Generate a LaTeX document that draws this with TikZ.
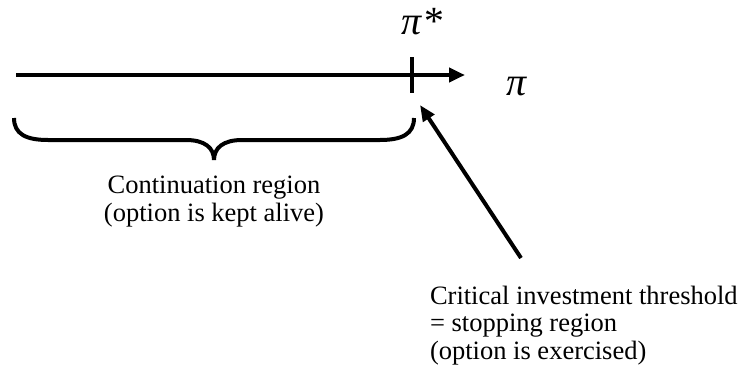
\documentclass[tikz,border=0pt]{standalone}
\usepackage{fontspec}
\setmainfont{Liberation Serif}
\usepackage{tikz}
\usetikzlibrary{arrows.meta}
\tikzset{
  txt/.style={inner sep=0pt,font=\fontsize{26.5}{27.5}\selectfont},
  sym/.style={inner sep=0pt,font=\fontsize{40}{40}\selectfont\itshape},
}
\begin{document}
\begin{tikzpicture}[x=1pt,y=-1pt,>={Triangle[length=16pt,width=14pt]},line width=4pt]
\useasboundingbox (0,0) rectangle (739,367);
\coordinate (start) at (16,75);
\coordinate (end) at (465,75);
\coordinate (ticktop) at (412,57);
\coordinate (tickbot) at (412,93);
\coordinate (tail) at (521,258);
\draw[->] (start) -- (end);
\draw (ticktop) -- (tickbot);
\node[sym,anchor=south] (pistar) at (422,37) {π*};
\node[sym,anchor=base west] (pi) at (504,95) {π};
% brace under the continuation region
\draw (14,118) .. controls (14,134) and (26,140) .. (48,140) -- (186,140)
  .. controls (205,140) and (214,148) .. (214,160)
  .. controls (214,148) and (223,140) .. (242,140) -- (380,140)
  .. controls (402,140) and (414,134) .. (414,118);
\node[txt,align=center,anchor=north] (cont) at (214,174) {Continuation region\\(option is kept alive)};
\node[txt,align=left,anchor=north west] (crit) at (428,284) {Critical investment threshold\\= stopping region\\(option is exercised)};
\draw[->,>={Triangle[length=16pt,width=13pt]}] (tail) -- (420,105);
\end{tikzpicture}
\end{document}
